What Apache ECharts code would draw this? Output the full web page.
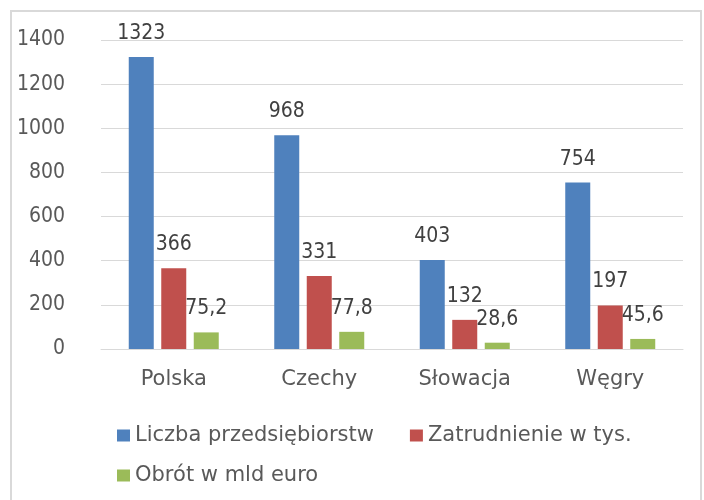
<!DOCTYPE html>
<html>
<head>
<meta charset="utf-8">
<script src="https://cdn.jsdelivr.net/npm/echarts@6/dist/echarts.min.js"></script>
<style>
  html, body { margin: 0; padding: 0; background: #fff; }
  #chart { width: 704px; height: 500px; }
</style>
</head>
<body>
<div id="chart"></div>
<script>
const countries = ['Polska', 'Czechy', 'Słowacja', 'Węgry']
const firms = [1323, 968, 403, 754]
const employment = [366, 331, 132, 197]
const turnover = [75.2, 77.8, 28.6, 45.6]
const seriesNames = ['Liczba przedsiębiorstw', 'Zatrudnienie w tys.', 'Obrót w mld euro']

const COLORS = ['#4F81BD', '#C0504D', '#9BBB59']
const FONT = 'DejaVu Sans'
const NUM_FONT = '"DejaVu Sans Condensed", "DejaVu Sans"'
const TEXT = '#595959'

const chart = echarts.init(document.getElementById('chart'))

const labelFmt = p => String(p.value).replace('.', ',')

const makeSeries = (name, data, color) => ({
  name,
  type: 'bar',
  data,
  barWidth: 25,
  barGap: '30%',
  itemStyle: { color },
  label: {
    show: true,
    position: 'top',
    distance: 13,
    color: '#404040',
    fontFamily: NUM_FONT,
    fontSize: 21,
    formatter: labelFmt
  }
})

const legendStyle = {
  itemWidth: 13,
  itemHeight: 12,
  itemGap: 36,
  icon: 'rect',
  textStyle: { color: TEXT, fontFamily: FONT, fontSize: 21 }
}

chart.setOption({
  animation: false,
  graphic: [{
    type: 'rect',
    shape: { x: 11, y: 11, width: 690, height: 500 },
    style: { fill: 'none', stroke: '#d9d9d9', lineWidth: 2 }
  }],
  grid: { left: 101, right: 21, top: 40, bottom: 151 },
  legend: [
    Object.assign({ data: seriesNames.slice(0, 2), left: 112, top: 420 }, legendStyle),
    Object.assign({ data: seriesNames.slice(2), left: 112, top: 460 }, legendStyle)
  ],
  xAxis: {
    type: 'category',
    data: countries,
    axisLine: { lineStyle: { color: '#d9d9d9', width: 1 } },
    axisTick: { show: false },
    axisLabel: { color: TEXT, fontFamily: FONT, fontSize: 21, margin: 20 }
  },
  yAxis: {
    type: 'value',
    min: 0,
    max: 1400,
    interval: 200,
    axisLine: { show: false },
    axisTick: { show: false },
    splitLine: { lineStyle: { color: '#d9d9d9', width: 1 } },
    axisLabel: {
      color: TEXT,
      fontFamily: NUM_FONT,
      fontSize: 21,
      margin: 36,
      formatter: v => String(v)
    }
  },
  series: [
    makeSeries(seriesNames[0], firms, COLORS[0]),
    makeSeries(seriesNames[1], employment, COLORS[1]),
    makeSeries(seriesNames[2], turnover, COLORS[2])
  ]
})
</script>
</body>
</html>
